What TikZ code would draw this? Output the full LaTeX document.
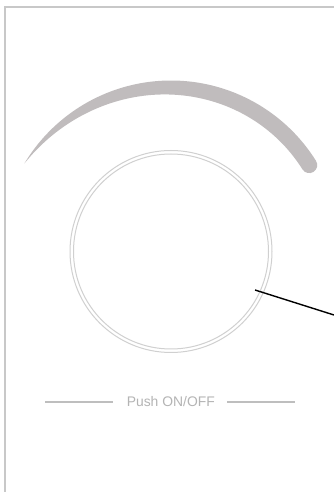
\documentclass[tikz,border=0pt]{standalone}
\usepackage{fontspec}
\setmainfont{Liberation Sans}
\definecolor{arcgray}{RGB}{192,188,189}
\definecolor{ringgray}{RGB}{208,208,208}
\definecolor{framegray}{RGB}{200,200,200}
\definecolor{textgray}{RGB}{180,180,180}
\definecolor{rulegray}{RGB}{190,190,190}
\begin{document}
\begin{tikzpicture}[x=1pt,y=1pt,
  ring/.style={draw=ringgray, line width=1pt},
  framestyle/.style={draw=framegray, line width=1.5pt},
  rulestyle/.style={draw=rulegray, line width=1.3pt},
  leader/.style={draw=black, line width=1.4pt}]
\useasboundingbox (0,0) rectangle (334,492);
\fill[white] (0,0) rectangle (334,492);
% frame
\coordinate (fbl) at (5,0);
\coordinate (ftl) at (5,485);
\coordinate (ftr) at (334,485);
\draw[framestyle] (fbl) -- (ftl) -- (ftr);
% tapered arc
\fill[arcgray]
  plot[domain=149:32, samples=80] ({171+171*cos(\x)}, {240.5+171*sin(\x)})
  arc[start angle=32, end angle=-148, radius=8pt]
  -- plot[domain=32:149, samples=80]
     ({171+(171-16*(1-(1-(149-\x)/117)^3))*cos(\x)},
      {240.5+(171-16*(1-(1-(149-\x)/117)^3))*sin(\x)})
  -- cycle;
% knob rings
\node[circle, minimum size=202pt, inner sep=0pt, ring] (knob) at (171,240.5) {};
\node[circle, minimum size=195pt, inner sep=0pt, ring] (knobin) at (171,240.5) {};
% leader line
\coordinate (lstart) at (255,202);
\coordinate (lend) at (334,177);
\draw[leader] (lstart) -- (lend);
% label
\node[text=textgray, font=\fontsize{13.9}{16}\selectfont, inner sep=0pt] (lbl) at (170.8,90) {Push ON/OFF};
\coordinate (r1a) at (45,90);
\coordinate (r1b) at (113,90);
\coordinate (r2a) at (227,90);
\coordinate (r2b) at (295,90);
\draw[rulestyle] (r1a) -- (r1b);
\draw[rulestyle] (r2a) -- (r2b);
\end{tikzpicture}
\end{document}
